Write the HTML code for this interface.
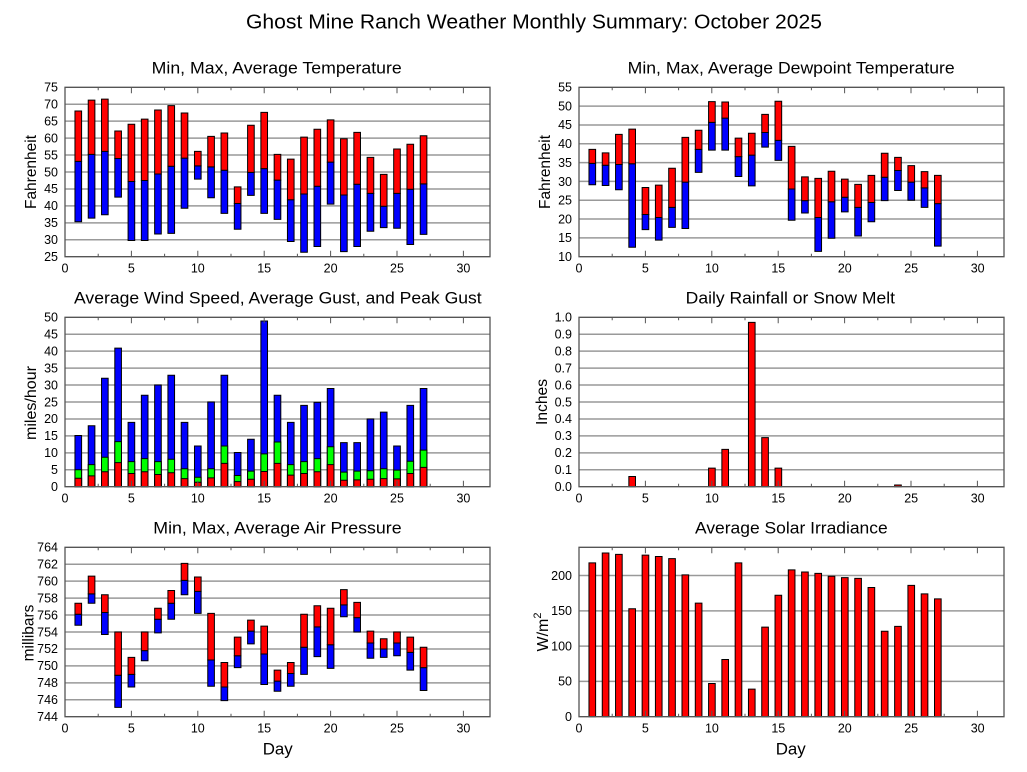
<!DOCTYPE html>
<html><head><meta charset="utf-8">
<style>
html,body{margin:0;padding:0;background:#fff;}
svg{display:block;font-family:"Liberation Sans",Arial,sans-serif;}
rect{vector-effect:non-scaling-stroke;}
.bars rect{stroke:#000;stroke-width:1;}
.r{fill:#ff0000}.u{fill:#0000ff}.g{fill:#00ff00}
.gl line{stroke:#999;stroke-width:1.5}
.tl{font-size:12.5px;fill:#000}
.tl text{text-anchor:end}
.xl text{text-anchor:middle;font-size:12.5px}
</style></head><body>
<svg width="1027" height="772" viewBox="0 0 1027 772" xmlns="http://www.w3.org/2000/svg">
<defs>
<g id="g10" class="gl"><line x1="0" x2="425" y1="-16.94" y2="-16.94"/><line x1="0" x2="425" y1="-33.88" y2="-33.88"/><line x1="0" x2="425" y1="-50.82" y2="-50.82"/><line x1="0" x2="425" y1="-67.76" y2="-67.76"/><line x1="0" x2="425" y1="-84.7" y2="-84.7"/><line x1="0" x2="425" y1="-101.64" y2="-101.64"/><line x1="0" x2="425" y1="-118.58" y2="-118.58"/><line x1="0" x2="425" y1="-135.52" y2="-135.52"/><line x1="0" x2="425" y1="-152.46" y2="-152.46"/></g>
<g id="g9" class="gl"><line x1="0" x2="425" y1="-18.82" y2="-18.82"/><line x1="0" x2="425" y1="-37.64" y2="-37.64"/><line x1="0" x2="425" y1="-56.47" y2="-56.47"/><line x1="0" x2="425" y1="-75.29" y2="-75.29"/><line x1="0" x2="425" y1="-94.11" y2="-94.11"/><line x1="0" x2="425" y1="-112.93" y2="-112.93"/><line x1="0" x2="425" y1="-131.76" y2="-131.76"/><line x1="0" x2="425" y1="-150.58" y2="-150.58"/></g>
<g id="g6" class="gl"><line x1="0" x2="425" y1="-35.29" y2="-35.29"/><line x1="0" x2="425" y1="-70.58" y2="-70.58"/><line x1="0" x2="425" y1="-105.88" y2="-105.88"/><line x1="0" x2="425" y1="-141.17" y2="-141.17"/></g>
<g id="frame">
<rect x="0" y="-169.4" width="425" height="169.4" fill="none" stroke="#555" stroke-width="1.3"/>
<path d="M33.2 0v-3M66.4 0v-6M99.6 0v-3M132.8 0v-6M166 0v-3M199.2 0v-6M232.4 0v-3M265.6 0v-6M298.8 0v-3M332 0v-6M365.2 0v-3M398.4 0v-6M33.2 -169.4v3M66.4 -169.4v6M99.6 -169.4v3M132.8 -169.4v6M166 -169.4v3M199.2 -169.4v6M232.4 -169.4v3M265.6 -169.4v6M298.8 -169.4v3M332 -169.4v6M365.2 -169.4v3M398.4 -169.4v6" stroke="#555" stroke-width="1" fill="none"/>
</g>
</defs>

<text x="246" y="28.3" font-size="20" textLength="576" lengthAdjust="spacingAndGlyphs">Ghost Mine Ranch Weather Monthly Summary: October 2025</text>

<!-- Panel titles -->
<text x="151.7" y="73.3" font-size="17" textLength="250" lengthAdjust="spacingAndGlyphs">Min, Max, Average Temperature</text>
<text x="627.7" y="73.3" font-size="17" textLength="327" lengthAdjust="spacingAndGlyphs">Min, Max, Average Dewpoint Temperature</text>
<text x="74" y="303.3" font-size="17" textLength="407.7" lengthAdjust="spacingAndGlyphs">Average Wind Speed, Average Gust, and Peak Gust</text>
<text x="685.7" y="303.3" font-size="17" textLength="209.3" lengthAdjust="spacingAndGlyphs">Daily Rainfall or Snow Melt</text>
<text x="153.3" y="533.3" font-size="17" textLength="248.3" lengthAdjust="spacingAndGlyphs">Min, Max, Average Air Pressure</text>
<text x="695" y="533.3" font-size="17" textLength="192.7" lengthAdjust="spacingAndGlyphs">Average Solar Irradiance</text>

<!-- Axis labels -->
<text x="36" y="172" font-size="16" text-anchor="middle" transform="rotate(-90 36 172)" textLength="74" lengthAdjust="spacingAndGlyphs">Fahrenheit</text>
<text x="550" y="172" font-size="16" text-anchor="middle" transform="rotate(-90 550 172)" textLength="74" lengthAdjust="spacingAndGlyphs">Fahrenheit</text>
<text x="36" y="403" font-size="16" text-anchor="middle" transform="rotate(-90 36 403)" textLength="74" lengthAdjust="spacingAndGlyphs">miles/hour</text>
<text x="547" y="402" font-size="16" text-anchor="middle" transform="rotate(-90 547 402)" textLength="46" lengthAdjust="spacingAndGlyphs">Inches</text>
<text x="33.5" y="633" font-size="16" text-anchor="middle" transform="rotate(-90 33.5 633)" textLength="56.7" lengthAdjust="spacingAndGlyphs">millibars</text>
<text x="548" y="632" font-size="16" text-anchor="middle" transform="rotate(-90 548 632)">W/m<tspan font-size="11" dy="-7">2</tspan></text>
<text x="277.7" y="754.3" font-size="17" text-anchor="middle" textLength="30" lengthAdjust="spacingAndGlyphs">Day</text>
<text x="790.7" y="754.3" font-size="17" text-anchor="middle" textLength="30" lengthAdjust="spacingAndGlyphs">Day</text>

<!-- Y tick labels -->
<g class="tl">
<text x="58" y="91.6">75</text><text x="58" y="108.6">70</text><text x="58" y="125.5">65</text><text x="58" y="142.4">60</text><text x="58" y="159.4">55</text><text x="58" y="176.3">50</text><text x="58" y="193.2">45</text><text x="58" y="210.2">40</text><text x="58" y="227.1">35</text><text x="58" y="244.1">30</text><text x="58" y="261">25</text>
<text x="572" y="91.6">55</text><text x="572" y="110.4">50</text><text x="572" y="129.2">45</text><text x="572" y="148.1">40</text><text x="572" y="166.9">35</text><text x="572" y="185.8">30</text><text x="572" y="204.5">25</text><text x="572" y="223.4">20</text><text x="572" y="242.2">15</text><text x="572" y="261">10</text>
<text x="58" y="321.6">50</text><text x="58" y="338.5">45</text><text x="58" y="355.4">40</text><text x="58" y="372.4">35</text><text x="58" y="389.3">30</text><text x="58" y="406.3">25</text><text x="58" y="423.2">20</text><text x="58" y="440.2">15</text><text x="58" y="457.1">10</text><text x="58" y="474.1">5</text><text x="58" y="491">0</text>
<text x="572" y="321.6">1.0</text><text x="572" y="338.5">0.9</text><text x="572" y="355.4">0.8</text><text x="572" y="372.4">0.7</text><text x="572" y="389.3">0.6</text><text x="572" y="406.3">0.5</text><text x="572" y="423.2">0.4</text><text x="572" y="440.2">0.3</text><text x="572" y="457.1">0.2</text><text x="572" y="474.1">0.1</text><text x="572" y="491">0.0</text>
<text x="58" y="551.6">764</text><text x="58" y="568.5">762</text><text x="58" y="585.5">760</text><text x="58" y="602.4">758</text><text x="58" y="619.4">756</text><text x="58" y="636.3">754</text><text x="58" y="653.2">752</text><text x="58" y="670.2">750</text><text x="58" y="687.1">748</text><text x="58" y="704.1">746</text><text x="58" y="721">744</text>
<text x="572" y="579.8">200</text><text x="572" y="615.1">150</text><text x="572" y="650.4">100</text><text x="572" y="685.7">50</text><text x="572" y="721">0</text>
</g>

<!-- X tick labels -->
<g class="xl">
<text x="65" y="272.7">0</text><text x="131.4" y="272.7">5</text><text x="197.8" y="272.7">10</text><text x="264.2" y="272.7">15</text><text x="330.6" y="272.7">20</text><text x="397" y="272.7">25</text><text x="463.4" y="272.7">30</text>
<text x="579" y="272.7">0</text><text x="645.4" y="272.7">5</text><text x="711.9" y="272.7">10</text><text x="778.3" y="272.7">15</text><text x="844.8" y="272.7">20</text><text x="911.2" y="272.7">25</text><text x="977.7" y="272.7">30</text>
<text x="65" y="502.7">0</text><text x="131.4" y="502.7">5</text><text x="197.8" y="502.7">10</text><text x="264.2" y="502.7">15</text><text x="330.6" y="502.7">20</text><text x="397" y="502.7">25</text><text x="463.4" y="502.7">30</text>
<text x="579" y="502.7">0</text><text x="645.4" y="502.7">5</text><text x="711.9" y="502.7">10</text><text x="778.3" y="502.7">15</text><text x="844.8" y="502.7">20</text><text x="911.2" y="502.7">25</text><text x="977.7" y="502.7">30</text>
<text x="65" y="732.7">0</text><text x="131.4" y="732.7">5</text><text x="197.8" y="732.7">10</text><text x="264.2" y="732.7">15</text><text x="330.6" y="732.7">20</text><text x="397" y="732.7">25</text><text x="463.4" y="732.7">30</text>
<text x="579" y="732.7">0</text><text x="645.4" y="732.7">5</text><text x="711.9" y="732.7">10</text><text x="778.3" y="732.7">15</text><text x="844.8" y="732.7">20</text><text x="911.2" y="732.7">25</text><text x="977.7" y="732.7">30</text>
</g>

<!-- Panel 1: Temperature -->
<g transform="translate(65,256.7)">
<use href="#g10"/>
<g class="bars" transform="scale(13.28,-3.388) translate(0,-25)">
<rect class="u" x="0.75" y="35.3" width="0.5" height="17.85"/><rect class="r" x="0.75" y="53.15" width="0.5" height="14.85"/>
<rect class="u" x="1.75" y="36.4" width="0.5" height="18.8"/><rect class="r" x="1.75" y="55.2" width="0.5" height="16"/>
<rect class="u" x="2.75" y="37.4" width="0.5" height="18.7"/><rect class="r" x="2.75" y="56.1" width="0.5" height="15.4"/>
<rect class="u" x="3.75" y="42.6" width="0.5" height="11.4"/><rect class="r" x="3.75" y="54" width="0.5" height="8.1"/>
<rect class="u" x="4.75" y="29.8" width="0.5" height="17.4"/><rect class="r" x="4.75" y="47.2" width="0.5" height="16.9"/>
<rect class="u" x="5.75" y="29.8" width="0.5" height="17.7"/><rect class="r" x="5.75" y="47.5" width="0.5" height="18.1"/>
<rect class="u" x="6.75" y="31.7" width="0.5" height="17.7"/><rect class="r" x="6.75" y="49.4" width="0.5" height="18.9"/>
<rect class="u" x="7.75" y="31.9" width="0.5" height="19.8"/><rect class="r" x="7.75" y="51.7" width="0.5" height="17.9"/>
<rect class="u" x="8.75" y="39.3" width="0.5" height="14.8"/><rect class="r" x="8.75" y="54.1" width="0.5" height="13.3"/>
<rect class="u" x="9.75" y="47.9" width="0.5" height="3.9"/><rect class="r" x="9.75" y="51.8" width="0.5" height="4.3"/>
<rect class="u" x="10.75" y="42.4" width="0.5" height="9.1"/><rect class="r" x="10.75" y="51.5" width="0.5" height="9"/>
<rect class="u" x="11.75" y="37.8" width="0.5" height="12.7"/><rect class="r" x="11.75" y="50.5" width="0.5" height="11"/>
<rect class="u" x="12.75" y="33.1" width="0.5" height="7.6"/><rect class="r" x="12.75" y="40.7" width="0.5" height="4.9"/>
<rect class="u" x="13.75" y="43.1" width="0.5" height="6.8"/><rect class="r" x="13.75" y="49.9" width="0.5" height="13.9"/>
<rect class="u" x="14.75" y="37.8" width="0.5" height="13.2"/><rect class="r" x="14.75" y="51" width="0.5" height="16.6"/>
<rect class="u" x="15.75" y="36" width="0.5" height="11.6"/><rect class="r" x="15.75" y="47.6" width="0.5" height="7.6"/>
<rect class="u" x="16.75" y="29.5" width="0.5" height="12.3"/><rect class="r" x="16.75" y="41.8" width="0.5" height="12"/>
<rect class="u" x="17.75" y="26.3" width="0.5" height="17.2"/><rect class="r" x="17.75" y="43.5" width="0.5" height="16.8"/>
<rect class="u" x="18.75" y="28" width="0.5" height="17.8"/><rect class="r" x="18.75" y="45.8" width="0.5" height="16.8"/>
<rect class="u" x="19.75" y="40.5" width="0.5" height="12.4"/><rect class="r" x="19.75" y="52.9" width="0.5" height="12.5"/>
<rect class="u" x="20.75" y="26.5" width="0.5" height="16.7"/><rect class="r" x="20.75" y="43.2" width="0.5" height="16.6"/>
<rect class="u" x="21.75" y="28" width="0.5" height="18.4"/><rect class="r" x="21.75" y="46.4" width="0.5" height="15.3"/>
<rect class="u" x="22.75" y="32.5" width="0.5" height="11.2"/><rect class="r" x="22.75" y="43.7" width="0.5" height="10.6"/>
<rect class="u" x="23.75" y="33.6" width="0.5" height="6.3"/><rect class="r" x="23.75" y="39.9" width="0.5" height="9.4"/>
<rect class="u" x="24.75" y="33.4" width="0.5" height="10.3"/><rect class="r" x="24.75" y="43.7" width="0.5" height="13.1"/>
<rect class="u" x="25.75" y="28.6" width="0.5" height="16.3"/><rect class="r" x="25.75" y="44.9" width="0.5" height="13.3"/>
<rect class="u" x="26.75" y="31.6" width="0.5" height="14.9"/><rect class="r" x="26.75" y="46.5" width="0.5" height="14.2"/>
</g>
<use href="#frame"/>
</g>

<!-- Panel 2: Dewpoint -->
<g transform="translate(579,256.7)">
<use href="#g9"/>
<g class="bars" transform="scale(13.29,-3.764) translate(0,-10)">
<rect class="u" x="0.75" y="29.1" width="0.5" height="5.7"/><rect class="r" x="0.75" y="34.8" width="0.5" height="3.7"/>
<rect class="u" x="1.75" y="28.9" width="0.5" height="5.4"/><rect class="r" x="1.75" y="34.3" width="0.5" height="3.3"/>
<rect class="u" x="2.75" y="27.8" width="0.5" height="6.7"/><rect class="r" x="2.75" y="34.5" width="0.5" height="8"/>
<rect class="u" x="3.75" y="12.5" width="0.5" height="22.2"/><rect class="r" x="3.75" y="34.7" width="0.5" height="9.2"/>
<rect class="u" x="4.75" y="17.2" width="0.5" height="4"/><rect class="r" x="4.75" y="21.2" width="0.5" height="7.2"/>
<rect class="u" x="5.75" y="14.4" width="0.5" height="6"/><rect class="r" x="5.75" y="20.4" width="0.5" height="8.6"/>
<rect class="u" x="6.75" y="17.8" width="0.5" height="5.3"/><rect class="r" x="6.75" y="23.1" width="0.5" height="10.4"/>
<rect class="u" x="7.75" y="17.5" width="0.5" height="12.3"/><rect class="r" x="7.75" y="29.8" width="0.5" height="11.9"/>
<rect class="u" x="8.75" y="32.4" width="0.5" height="6.1"/><rect class="r" x="8.75" y="38.5" width="0.5" height="5.1"/>
<rect class="u" x="9.75" y="38.3" width="0.5" height="7.4"/><rect class="r" x="9.75" y="45.7" width="0.5" height="5.5"/>
<rect class="u" x="10.75" y="38.3" width="0.5" height="8.5"/><rect class="r" x="10.75" y="46.8" width="0.5" height="4.3"/>
<rect class="u" x="11.75" y="31.3" width="0.5" height="5.3"/><rect class="r" x="11.75" y="36.6" width="0.5" height="4.9"/>
<rect class="u" x="12.75" y="28.8" width="0.5" height="8.2"/><rect class="r" x="12.75" y="37" width="0.5" height="5.8"/>
<rect class="u" x="13.75" y="39.1" width="0.5" height="3.9"/><rect class="r" x="13.75" y="43" width="0.5" height="4.8"/>
<rect class="u" x="14.75" y="35.6" width="0.5" height="5.3"/><rect class="r" x="14.75" y="40.9" width="0.5" height="10.4"/>
<rect class="u" x="15.75" y="19.7" width="0.5" height="8.3"/><rect class="r" x="15.75" y="28" width="0.5" height="11.3"/>
<rect class="u" x="16.75" y="21.6" width="0.5" height="3.3"/><rect class="r" x="16.75" y="24.9" width="0.5" height="6.3"/>
<rect class="u" x="17.75" y="11.4" width="0.5" height="9"/><rect class="r" x="17.75" y="20.4" width="0.5" height="10.4"/>
<rect class="u" x="18.75" y="14.9" width="0.5" height="9.7"/><rect class="r" x="18.75" y="24.6" width="0.5" height="8.1"/>
<rect class="u" x="19.75" y="21.9" width="0.5" height="3.9"/><rect class="r" x="19.75" y="25.8" width="0.5" height="4.8"/>
<rect class="u" x="20.75" y="15.5" width="0.5" height="7.6"/><rect class="r" x="20.75" y="23.1" width="0.5" height="6.1"/>
<rect class="u" x="21.75" y="19.3" width="0.5" height="5.1"/><rect class="r" x="21.75" y="24.4" width="0.5" height="7.2"/>
<rect class="u" x="22.75" y="24.9" width="0.5" height="6.2"/><rect class="r" x="22.75" y="31.1" width="0.5" height="6.4"/>
<rect class="u" x="23.75" y="27.6" width="0.5" height="5.3"/><rect class="r" x="23.75" y="32.9" width="0.5" height="3.5"/>
<rect class="u" x="24.75" y="25" width="0.5" height="4.8"/><rect class="r" x="24.75" y="29.8" width="0.5" height="4.4"/>
<rect class="u" x="25.75" y="23.1" width="0.5" height="5.2"/><rect class="r" x="25.75" y="28.3" width="0.5" height="4.3"/>
<rect class="u" x="26.75" y="12.8" width="0.5" height="11.3"/><rect class="r" x="26.75" y="24.1" width="0.5" height="7.5"/>
</g>
<use href="#frame"/>
</g>

<!-- Panel 3: Wind -->
<g transform="translate(65,486.7)">
<use href="#g10"/>
<g class="bars" transform="scale(13.28,-3.388)">
<rect class="u" x="0.75" y="0" width="0.5" height="15.1"/><rect class="g" x="0.75" y="0" width="0.5" height="5"/><rect class="r" x="0.75" y="0" width="0.5" height="2.5"/>
<rect class="u" x="1.75" y="0" width="0.5" height="18"/><rect class="g" x="1.75" y="0" width="0.5" height="6.5"/><rect class="r" x="1.75" y="0" width="0.5" height="3.2"/>
<rect class="u" x="2.75" y="0" width="0.5" height="32"/><rect class="g" x="2.75" y="0" width="0.5" height="8.7"/><rect class="r" x="2.75" y="0" width="0.5" height="4.4"/>
<rect class="u" x="3.75" y="0" width="0.5" height="40.9"/><rect class="g" x="3.75" y="0" width="0.5" height="13.3"/><rect class="r" x="3.75" y="0" width="0.5" height="7.1"/>
<rect class="u" x="4.75" y="0" width="0.5" height="19"/><rect class="g" x="4.75" y="0" width="0.5" height="7.4"/><rect class="r" x="4.75" y="0" width="0.5" height="3.9"/>
<rect class="u" x="5.75" y="0" width="0.5" height="27"/><rect class="g" x="5.75" y="0" width="0.5" height="8.3"/><rect class="r" x="5.75" y="0" width="0.5" height="4.4"/>
<rect class="u" x="6.75" y="0" width="0.5" height="30"/><rect class="g" x="6.75" y="0" width="0.5" height="7.4"/><rect class="r" x="6.75" y="0" width="0.5" height="3.6"/>
<rect class="u" x="7.75" y="0" width="0.5" height="32.9"/><rect class="g" x="7.75" y="0" width="0.5" height="8.1"/><rect class="r" x="7.75" y="0" width="0.5" height="4.1"/>
<rect class="u" x="8.75" y="0" width="0.5" height="19"/><rect class="g" x="8.75" y="0" width="0.5" height="5.3"/><rect class="r" x="8.75" y="0" width="0.5" height="2.4"/>
<rect class="u" x="9.75" y="0" width="0.5" height="12"/><rect class="g" x="9.75" y="0" width="0.5" height="2.8"/><rect class="r" x="9.75" y="0" width="0.5" height="1.3"/>
<rect class="u" x="10.75" y="0" width="0.5" height="25"/><rect class="g" x="10.75" y="0" width="0.5" height="5.3"/><rect class="r" x="10.75" y="0" width="0.5" height="2.6"/>
<rect class="u" x="11.75" y="0" width="0.5" height="32.9"/><rect class="g" x="11.75" y="0" width="0.5" height="12"/><rect class="r" x="11.75" y="0" width="0.5" height="6.9"/>
<rect class="u" x="12.75" y="0" width="0.5" height="10.1"/><rect class="g" x="12.75" y="0" width="0.5" height="3.3"/><rect class="r" x="12.75" y="0" width="0.5" height="1.5"/>
<rect class="u" x="13.75" y="0" width="0.5" height="14"/><rect class="g" x="13.75" y="0" width="0.5" height="4.6"/><rect class="r" x="13.75" y="0" width="0.5" height="2.2"/>
<rect class="u" x="14.75" y="0" width="0.5" height="48.9"/><rect class="g" x="14.75" y="0" width="0.5" height="9.7"/><rect class="r" x="14.75" y="0" width="0.5" height="4.5"/>
<rect class="u" x="15.75" y="0" width="0.5" height="27"/><rect class="g" x="15.75" y="0" width="0.5" height="13.2"/><rect class="r" x="15.75" y="0" width="0.5" height="6.9"/>
<rect class="u" x="16.75" y="0" width="0.5" height="19"/><rect class="g" x="16.75" y="0" width="0.5" height="6.5"/><rect class="r" x="16.75" y="0" width="0.5" height="3.4"/>
<rect class="u" x="17.75" y="0" width="0.5" height="24"/><rect class="g" x="17.75" y="0" width="0.5" height="7.4"/><rect class="r" x="17.75" y="0" width="0.5" height="3.9"/>
<rect class="u" x="18.75" y="0" width="0.5" height="24.9"/><rect class="g" x="18.75" y="0" width="0.5" height="8.3"/><rect class="r" x="18.75" y="0" width="0.5" height="4.4"/>
<rect class="u" x="19.75" y="0" width="0.5" height="29"/><rect class="g" x="19.75" y="0" width="0.5" height="11.8"/><rect class="r" x="19.75" y="0" width="0.5" height="6.5"/>
<rect class="u" x="20.75" y="0" width="0.5" height="13"/><rect class="g" x="20.75" y="0" width="0.5" height="4.3"/><rect class="r" x="20.75" y="0" width="0.5" height="1.9"/>
<rect class="u" x="21.75" y="0" width="0.5" height="13"/><rect class="g" x="21.75" y="0" width="0.5" height="4.6"/><rect class="r" x="21.75" y="0" width="0.5" height="2"/>
<rect class="u" x="22.75" y="0" width="0.5" height="20"/><rect class="g" x="22.75" y="0" width="0.5" height="4.7"/><rect class="r" x="22.75" y="0" width="0.5" height="2.2"/>
<rect class="u" x="23.75" y="0" width="0.5" height="22"/><rect class="g" x="23.75" y="0" width="0.5" height="5.3"/><rect class="r" x="23.75" y="0" width="0.5" height="2.4"/>
<rect class="u" x="24.75" y="0" width="0.5" height="12"/><rect class="g" x="24.75" y="0" width="0.5" height="4.9"/><rect class="r" x="24.75" y="0" width="0.5" height="2.3"/>
<rect class="u" x="25.75" y="0" width="0.5" height="24"/><rect class="g" x="25.75" y="0" width="0.5" height="7.5"/><rect class="r" x="25.75" y="0" width="0.5" height="3.9"/>
<rect class="u" x="26.75" y="0" width="0.5" height="29"/><rect class="g" x="26.75" y="0" width="0.5" height="10.8"/><rect class="r" x="26.75" y="0" width="0.5" height="5.7"/>
</g>
<use href="#frame"/>
</g>

<!-- Panel 4: Rain -->
<g transform="translate(579,486.7)">
<use href="#g10"/>
<g class="bars" transform="scale(13.29,-169.4)">
<rect class="r" x="3.75" y="0" width="0.5" height="0.06"/>
<rect class="r" x="9.75" y="0" width="0.5" height="0.11"/>
<rect class="r" x="10.75" y="0" width="0.5" height="0.22"/>
<rect class="r" x="12.75" y="0" width="0.5" height="0.97"/>
<rect class="r" x="13.75" y="0" width="0.5" height="0.29"/>
<rect class="r" x="14.75" y="0" width="0.5" height="0.11"/>
<rect class="r" x="23.75" y="0" width="0.5" height="0.01"/>
</g>
<use href="#frame"/>
</g>

<!-- Panel 5: Pressure -->
<g transform="translate(65,716.7)">
<use href="#g10"/>
<g class="bars" transform="scale(13.28,-8.47) translate(0,-744)">
<rect class="u" x="0.75" y="754.8" width="0.5" height="1.3"/><rect class="r" x="0.75" y="756.1" width="0.5" height="1.3"/>
<rect class="u" x="1.75" y="757.4" width="0.5" height="1.1"/><rect class="r" x="1.75" y="758.5" width="0.5" height="2.1"/>
<rect class="u" x="2.75" y="753.7" width="0.5" height="2.6"/><rect class="r" x="2.75" y="756.3" width="0.5" height="2.1"/>
<rect class="u" x="3.75" y="745.1" width="0.5" height="3.8"/><rect class="r" x="3.75" y="748.9" width="0.5" height="5.1"/>
<rect class="u" x="4.75" y="747.5" width="0.5" height="1.5"/><rect class="r" x="4.75" y="749" width="0.5" height="2"/>
<rect class="u" x="5.75" y="750.6" width="0.5" height="1.2"/><rect class="r" x="5.75" y="751.8" width="0.5" height="2.2"/>
<rect class="u" x="6.75" y="753.9" width="0.5" height="1.6"/><rect class="r" x="6.75" y="755.5" width="0.5" height="1.3"/>
<rect class="u" x="7.75" y="755.5" width="0.5" height="1.9"/><rect class="r" x="7.75" y="757.4" width="0.5" height="1.5"/>
<rect class="u" x="8.75" y="758.4" width="0.5" height="1.7"/><rect class="r" x="8.75" y="760.1" width="0.5" height="2"/>
<rect class="u" x="9.75" y="756.2" width="0.5" height="2.6"/><rect class="r" x="9.75" y="758.8" width="0.5" height="1.7"/>
<rect class="u" x="10.75" y="747.6" width="0.5" height="3.1"/><rect class="r" x="10.75" y="750.7" width="0.5" height="5.5"/>
<rect class="u" x="11.75" y="745.9" width="0.5" height="1.6"/><rect class="r" x="11.75" y="747.5" width="0.5" height="2.9"/>
<rect class="u" x="12.75" y="749.8" width="0.5" height="1.4"/><rect class="r" x="12.75" y="751.2" width="0.5" height="2.2"/>
<rect class="u" x="13.75" y="752.6" width="0.5" height="1.5"/><rect class="r" x="13.75" y="754.1" width="0.5" height="1.3"/>
<rect class="u" x="14.75" y="747.8" width="0.5" height="3.6"/><rect class="r" x="14.75" y="751.4" width="0.5" height="3.3"/>
<rect class="u" x="15.75" y="747" width="0.5" height="1.2"/><rect class="r" x="15.75" y="748.2" width="0.5" height="1.3"/>
<rect class="u" x="16.75" y="747.6" width="0.5" height="1.5"/><rect class="r" x="16.75" y="749.1" width="0.5" height="1.3"/>
<rect class="u" x="17.75" y="749" width="0.5" height="3.2"/><rect class="r" x="17.75" y="752.2" width="0.5" height="3.9"/>
<rect class="u" x="18.75" y="751.1" width="0.5" height="3.5"/><rect class="r" x="18.75" y="754.6" width="0.5" height="2.5"/>
<rect class="u" x="19.75" y="749.7" width="0.5" height="2.8"/><rect class="r" x="19.75" y="752.5" width="0.5" height="4.3"/>
<rect class="u" x="20.75" y="755.8" width="0.5" height="1.4"/><rect class="r" x="20.75" y="757.2" width="0.5" height="1.8"/>
<rect class="u" x="21.75" y="754" width="0.5" height="1.7"/><rect class="r" x="21.75" y="755.7" width="0.5" height="1.8"/>
<rect class="u" x="22.75" y="750.9" width="0.5" height="1.8"/><rect class="r" x="22.75" y="752.7" width="0.5" height="1.4"/>
<rect class="u" x="23.75" y="751" width="0.5" height="1"/><rect class="r" x="23.75" y="752" width="0.5" height="1.2"/>
<rect class="u" x="24.75" y="751.2" width="0.5" height="1.5"/><rect class="r" x="24.75" y="752.7" width="0.5" height="1.3"/>
<rect class="u" x="25.75" y="749.5" width="0.5" height="2.1"/><rect class="r" x="25.75" y="751.6" width="0.5" height="1.8"/>
<rect class="u" x="26.75" y="747.1" width="0.5" height="2.7"/><rect class="r" x="26.75" y="749.8" width="0.5" height="2.4"/>
</g>
<use href="#frame"/>
</g>

<!-- Panel 6: Solar -->
<g transform="translate(579,716.7)">
<use href="#g6"/>
<g class="bars" transform="scale(13.29,-0.7058)">
<rect class="r" x="0.75" y="0" width="0.5" height="218"/>
<rect class="r" x="1.75" y="0" width="0.5" height="232"/>
<rect class="r" x="2.75" y="0" width="0.5" height="230"/>
<rect class="r" x="3.75" y="0" width="0.5" height="153"/>
<rect class="r" x="4.75" y="0" width="0.5" height="229"/>
<rect class="r" x="5.75" y="0" width="0.5" height="227"/>
<rect class="r" x="6.75" y="0" width="0.5" height="224"/>
<rect class="r" x="7.75" y="0" width="0.5" height="201"/>
<rect class="r" x="8.75" y="0" width="0.5" height="161"/>
<rect class="r" x="9.75" y="0" width="0.5" height="47"/>
<rect class="r" x="10.75" y="0" width="0.5" height="81"/>
<rect class="r" x="11.75" y="0" width="0.5" height="218"/>
<rect class="r" x="12.75" y="0" width="0.5" height="39"/>
<rect class="r" x="13.75" y="0" width="0.5" height="127"/>
<rect class="r" x="14.75" y="0" width="0.5" height="172"/>
<rect class="r" x="15.75" y="0" width="0.5" height="208"/>
<rect class="r" x="16.75" y="0" width="0.5" height="205"/>
<rect class="r" x="17.75" y="0" width="0.5" height="203"/>
<rect class="r" x="18.75" y="0" width="0.5" height="199"/>
<rect class="r" x="19.75" y="0" width="0.5" height="197"/>
<rect class="r" x="20.75" y="0" width="0.5" height="196"/>
<rect class="r" x="21.75" y="0" width="0.5" height="183"/>
<rect class="r" x="22.75" y="0" width="0.5" height="121"/>
<rect class="r" x="23.75" y="0" width="0.5" height="128"/>
<rect class="r" x="24.75" y="0" width="0.5" height="186"/>
<rect class="r" x="25.75" y="0" width="0.5" height="174"/>
<rect class="r" x="26.75" y="0" width="0.5" height="167"/>
</g>
<use href="#frame"/>
</g>
</svg>
</body></html>
